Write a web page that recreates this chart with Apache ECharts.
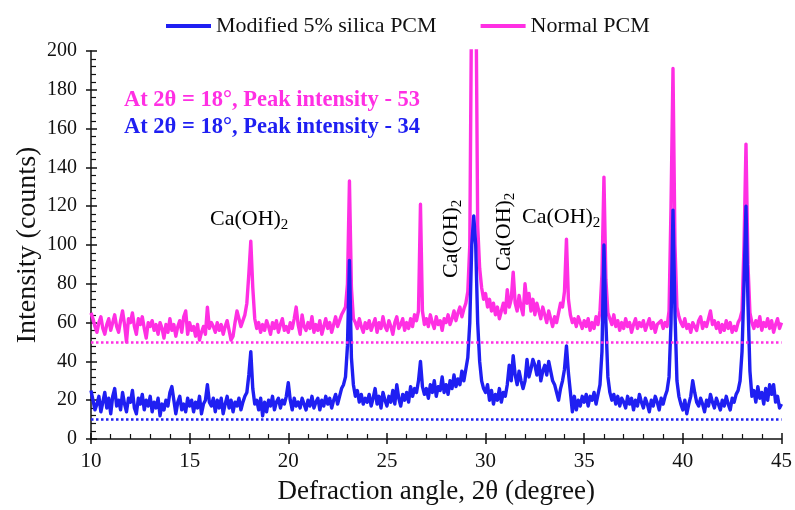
<!DOCTYPE html>
<html>
<head>
<meta charset="utf-8">
<script src="https://cdn.jsdelivr.net/npm/echarts@6/dist/echarts.min.js"></script>
<style>html,body{margin:0;padding:0;background:#fff}#c{width:795px;height:510px}</style>
</head>
<body>
<div id="c"></div>
<script>
// 2θ grid: 10.0 .. 45.0 in 0.1° steps (one value per step below)
const angleStart = 10;
const angleStep = 0.1;

// Normal PCM intensity (counts), rows = 10.x, 11.x, ... 44.x, then 45.0
const normalPCM = [
  65, 62, 58, 55, 60, 63, 57, 54, 59, 62,
  56, 60, 64, 58, 55, 61, 66, 59, 50, 62,
  60, 65, 58, 54, 62, 59, 63, 57, 52, 60,
  58, 61, 56, 59, 54, 60, 57, 52, 59, 55,
  62, 56, 59, 53, 58, 61, 55, 63, 66, 54,
  60, 56, 58, 53, 59, 51, 55, 58, 54, 68,
  57, 60, 58, 55, 60, 56, 59, 54, 58, 61,
  56, 51, 53, 60, 66, 62, 58, 61, 64, 70,
  85, 102, 78, 62, 57, 60, 55, 59, 56, 61,
  58, 54, 60, 57, 61, 55, 59, 62, 56, 58,
  55, 60, 57, 62, 68, 59, 54, 64, 58, 56,
  60, 57, 63, 55, 59, 56, 61, 54, 58, 62,
  57, 60, 55, 59, 63, 58, 61, 64, 66, 68,
  80, 133, 78, 62, 60, 57, 62, 58, 55, 60,
  57, 61, 56, 59, 62, 55, 60, 57, 63, 58,
  56, 61, 58, 54, 60, 63, 57, 59, 62, 56,
  60, 57, 62, 58, 64, 61, 66, 121, 66, 59,
  62, 58, 64, 60, 57, 63, 59, 61, 56, 62,
  60, 64, 59, 62, 66, 61, 65, 68, 63, 67,
  70, 76, 100, 240, 260, 250, 110, 88, 78, 72,
  75, 68, 72, 66, 70, 64, 68, 62, 66, 70,
  65, 77, 68, 72, 86, 70, 66, 74, 68, 64,
  80, 70, 75, 66, 72, 64, 70, 66, 62, 68,
  64, 60, 66, 62, 58, 63, 60, 65, 70, 68,
  76, 103, 72, 64, 60, 62, 58, 63, 60, 57,
  61, 58, 62, 56, 60, 57, 63, 59, 66, 85,
  135, 82, 65, 62, 59, 64, 58, 61, 56, 60,
  57, 62, 58, 60, 55, 59, 62, 57, 60, 58,
  61, 56, 59, 62, 57, 60, 55, 59, 58, 61,
  57, 60, 58, 66, 120, 191, 100, 68, 63, 60,
  58, 62, 57, 59, 55, 60, 58, 56, 61, 63,
  57, 60, 58, 62, 66, 59, 61, 57, 60, 55,
  59, 56, 61, 57, 60, 55, 58, 56, 60, 62,
  66, 100, 152, 90, 65, 60, 57, 61, 58, 63,
  56, 60, 58, 62, 57, 61, 55, 59, 62, 57,
  60
];

// Modified 5% silica PCM intensity (counts)
const modifiedPCM = [
  25, 20, 15, 18, 22, 14, 19, 24, 16, 21,
  13, 22, 26, 17, 20, 15, 24, 18, 14, 21,
  19, 25, 16, 13, 21, 18, 23, 15, 20, 17,
  22, 14, 19, 16, 21, 12, 18, 15, 20, 17,
  24, 27, 20, 13, 19, 22, 15, 18, 14, 21,
  17, 20, 14, 19, 16, 22, 13, 18, 20, 28,
  19, 17, 21, 14, 20, 16, 21, 13, 18, 22,
  16, 20, 14, 19, 17, 21, 15, 19, 22, 24,
  33, 45, 26, 18, 20, 15, 21, 12, 19, 14,
  20, 17, 22, 15, 19, 21, 16, 20, 18, 22,
  29, 20, 15, 21, 17, 19, 16, 21, 18, 15,
  20, 17, 22, 16, 19, 21, 15, 20, 17, 22,
  18, 21, 16, 20, 23, 18, 22, 26, 28, 32,
  48, 92, 42, 28, 22, 25, 19, 23, 18, 21,
  19, 23, 17, 21, 26, 18, 22, 16, 24, 20,
  17, 22, 19, 25, 18, 28, 21, 17, 23, 20,
  24, 19, 27, 22, 26, 24, 30, 40, 27, 23,
  26, 21, 28, 24, 30, 22, 27, 25, 32, 24,
  28, 23, 30, 26, 33, 27, 31, 28, 35, 30,
  36, 42, 60, 100, 115, 100, 60, 40, 30, 26,
  24, 28, 20, 25, 18, 23, 20, 26, 19, 24,
  22, 28, 38, 30, 43, 33, 28, 35, 30, 26,
  30, 41, 32, 36, 41, 38, 33, 40, 30, 35,
  38, 33, 40, 35, 30, 28, 24, 20, 26, 30,
  36, 48, 34, 24, 14, 22, 15, 20, 17, 22,
  19, 23, 17, 22, 20, 24, 18, 23, 28, 45,
  100, 60, 32, 24, 20, 23, 18, 22, 17, 21,
  19, 16, 22, 18, 21, 15, 20, 17, 23, 19,
  16, 21, 18, 14, 20, 17, 22, 19, 15, 21,
  18, 22, 25, 32, 60, 118, 65, 30, 22, 18,
  15, 20, 13, 18, 22, 30, 24, 19, 17, 21,
  18, 14, 20, 17, 23, 19, 16, 21, 18, 15,
  20, 17, 22, 18, 15, 21, 19, 23, 25, 30,
  45, 80, 120, 70, 35, 22, 25, 19, 27, 21,
  24, 18, 26, 20, 28, 23, 28, 19, 22, 16,
  18
];

const seriesNames = ['Modified 5% silica PCM', 'Normal PCM'];
const normalBaseline = 50;
const modifiedBaseline = 10;
const xTicks = [10, 15, 20, 25, 30, 35, 40, 45];
const yTicks = [0, 20, 40, 60, 80, 100, 120, 140, 160, 180, 200];
const noteNormal = 'At 2θ = 18°, Peak intensity - 53';
const noteModified = 'At 2θ = 18°, Peak intensity - 34';
const phaseLabel = 'Ca(OH)';

const BLUE = '#1f1ff2';
const PINK = '#ff2fe3';
const FONT = '"Liberation Serif", "Times New Roman", serif';

function pairs(vals) {
  return vals.map((v, i) => [+(angleStart + i * angleStep).toFixed(2), v]);
}

const chart = echarts.init(document.getElementById('c'));

const xBase = {
  type: 'value', min: xTicks[0], max: xTicks[xTicks.length - 1], interval: 5,
  splitLine: { show: false }, position: 'bottom'
};
const yBase = {
  type: 'value', min: yTicks[0], max: yTicks[yTicks.length - 1], interval: 20,
  splitLine: { show: false }, position: 'left'
};

const phaseRich = {
  b: { fontFamily: FONT, fontSize: 22, color: '#111' },
  s: { fontFamily: FONT, fontSize: 15, color: '#111', padding: [12, 0, 0, 0] }
};

chart.setOption({
  animation: false,
  backgroundColor: '#fff',
  grid: { left: 91, right: 9, top: 51, bottom: 69, containLabel: false },
  legend: {
    data: seriesNames,
    left: 161, top: 10,
    icon: 'rect', itemWidth: 45, itemHeight: 4, itemGap: 44,
    textStyle: { fontFamily: FONT, fontSize: 22, color: '#111' }
  },
  xAxis: [
    Object.assign({}, xBase, {
      name: 'Defraction angle, 2θ (degree)', nameLocation: 'middle', nameGap: 39,
      nameMoveOverlap: false,
      nameTextStyle: { fontFamily: FONT, fontSize: 27, color: '#111' },
      axisLine: { show: true, lineStyle: { color: '#111', width: 1.5 } },
      axisTick: { show: true, inside: true, length: 6, lineStyle: { color: '#111', width: 1.5 } },
      minorTick: { show: true, splitNumber: 5, length: 5, lineStyle: { color: '#111', width: 1.2 } },
      axisLabel: { fontFamily: FONT, fontSize: 21, color: '#111', margin: 12 }
    }),
    Object.assign({}, xBase, {
      axisLine: { show: false },
      axisTick: { show: true, inside: false, length: 5, lineStyle: { color: '#111', width: 1.5 } },
      axisLabel: { show: false }
    })
  ],
  yAxis: [
    Object.assign({}, yBase, {
      name: 'Intensity (counts)', nameLocation: 'middle', nameGap: 49,
      nameMoveOverlap: false,
      nameTextStyle: { fontFamily: FONT, fontSize: 28, color: '#111' },
      axisLine: { show: true, lineStyle: { color: '#111', width: 1.5 } },
      axisTick: { show: true, inside: true, length: 6, lineStyle: { color: '#111', width: 1.5 } },
      minorTick: { show: true, splitNumber: 5, length: 5, lineStyle: { color: '#111', width: 1.2 } },
      axisLabel: { fontFamily: FONT, fontSize: 20, color: '#111', margin: 14 }
    }),
    Object.assign({}, yBase, {
      axisLine: { show: false },
      axisTick: { show: true, inside: false, length: 5, lineStyle: { color: '#111', width: 1.5 } },
      axisLabel: { show: false }
    })
  ],
  series: [
    {
      name: seriesNames[1], type: 'line', xAxisIndex: 0, yAxisIndex: 0,
      data: pairs(normalPCM), symbol: 'none', clip: true,
      lineStyle: { color: PINK, width: 3.4, join: 'round' }, itemStyle: { color: PINK },
      markLine: {
        silent: true, symbol: 'none', label: { show: false },
        lineStyle: { color: PINK, type: [2.5, 2.5], width: 2.5 },
        data: [{ yAxis: normalBaseline }]
      }
    },
    {
      name: seriesNames[0], type: 'line', xAxisIndex: 0, yAxisIndex: 0,
      data: pairs(modifiedPCM), symbol: 'none', clip: true,
      lineStyle: { color: BLUE, width: 3.4, join: 'round' }, itemStyle: { color: BLUE },
      markLine: {
        silent: true, symbol: 'none', label: { show: false },
        lineStyle: { color: BLUE, type: [2.5, 2.5], width: 2.5 },
        data: [{ yAxis: modifiedBaseline }]
      }
    }
  ],
  graphic: [
    { type: 'text', left: 124, top: 89, style: { text: noteNormal, fill: PINK, font: 'bold 22.5px ' + FONT } },
    { type: 'text', left: 124, top: 116, style: { text: noteModified, fill: BLUE, font: 'bold 22.5px ' + FONT } },
    { type: 'text', left: 210, top: 208, style: { text: '{b|' + phaseLabel + '}{s|2}', rich: phaseRich } },
    { type: 'text', left: 522, top: 206, style: { text: '{b|' + phaseLabel + '}{s|2}', rich: phaseRich } },
    { type: 'text', x: 438, y: 278, rotation: Math.PI / 2, style: { text: '{b|' + phaseLabel + '}{s|2}', rich: phaseRich } },
    { type: 'text', x: 491, y: 271, rotation: Math.PI / 2, style: { text: '{b|' + phaseLabel + '}{s|2}', rich: phaseRich } }
  ]
});
</script>
</body>
</html>
